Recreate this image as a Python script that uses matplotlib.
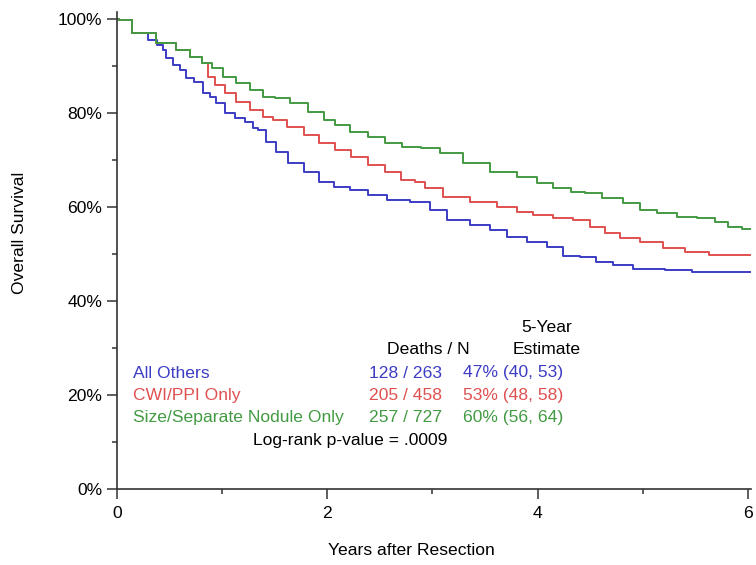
import numpy as np
import matplotlib.pyplot as plt
from matplotlib.ticker import PercentFormatter, MultipleLocator

plt.rcParams['font.family'] = ['Liberation Sans', 'DejaVu Sans']

# Kaplan-Meier curves (years, survival %)
others_t = [0, 0.03, 0.25, 0.34, 0.43, 0.44, 0.50, 0.57, 0.62, 0.69, 0.77, 0.86, 0.91,
            0.98, 1.07, 1.17, 1.26, 1.33, 1.36, 1.48, 1.55, 1.71, 1.84, 2.00, 2.12, 2.31,
            2.47, 2.66, 2.91, 3.04, 3.23, 3.48, 3.61, 3.80, 3.99, 4.18, 4.31, 4.50, 4.62,
            4.81, 5.00, 5.42, 5.51, 6.02]
others_s = [100, 99.8, 97.0, 95.5, 94.5, 93.4, 91.7, 90.2, 89.1, 87.4, 86.6, 84.3, 83.4,
            82.1, 80.0, 78.9, 78.1, 76.8, 76.4, 73.8, 71.7, 69.4, 67.4, 65.3, 64.3, 63.6,
            62.6, 61.5, 61.1, 59.4, 57.2, 56.2, 55.1, 53.6, 52.6, 51.5, 49.6, 49.4, 48.3,
            47.7, 46.8, 46.6, 46.2, 46.2]

cwi_t = [0, 0.03, 0.25, 0.50, 0.63, 0.76, 0.86, 0.88, 0.98, 1.07, 1.20, 1.33, 1.45,
         1.52, 1.71, 1.84, 2.00, 2.15, 2.31, 2.47, 2.62, 2.79, 2.88, 2.98, 3.23, 3.48,
         3.74, 3.86, 4.05, 4.24, 4.43, 4.56, 4.72, 4.85, 5.10, 5.29, 5.51, 5.76, 6.02]
cwi_s = [100, 99.8, 97.0, 94.9, 93.4, 91.9, 90.6, 87.7, 86.0, 84.3, 82.3, 80.6, 79.1,
         78.5, 77.0, 75.3, 73.6, 72.1, 70.6, 68.9, 67.4, 65.7, 65.3, 64.0, 62.1, 61.1,
         60.0, 58.9, 58.3, 57.7, 57.2, 55.7, 54.5, 53.4, 52.6, 51.3, 50.4, 49.8, 49.8]

size_t = [0, 0.03, 0.25, 0.50, 0.63, 0.76, 0.86, 0.95, 1.07, 1.20, 1.33, 1.45, 1.55,
          1.74, 1.90, 2.03, 2.12, 2.31, 2.47, 2.62, 2.81, 2.98, 3.17, 3.42, 3.67, 3.93,
          4.05, 4.24, 4.40, 4.50, 4.72, 4.91, 5.04, 5.23, 5.42, 5.61, 5.76, 5.86, 6.02]
size_s = [100, 99.8, 97.0, 94.9, 93.4, 91.9, 90.6, 89.6, 87.7, 86.4, 84.9, 83.4, 83.2,
          82.1, 80.2, 78.5, 77.4, 76.0, 74.9, 73.6, 72.8, 72.6, 71.5, 69.4, 67.4, 66.4,
          65.1, 64.0, 63.2, 63.0, 61.9, 60.9, 59.4, 58.7, 57.9, 57.7, 56.8, 55.7, 55.3]

groups = ['All Others', 'CWI/PPI Only', 'Size/Separate Nodule Only']
deaths_n = ['128 / 263', '205 / 458', '257 / 727']
estimates = ['47% (40, 53)', '53% (48, 58)', '60% (56, 64)']
colors = ['#3c3cc4', '#e05050', '#439a43']

fig = plt.figure(figsize=(7.56, 5.65), dpi=100)
ax = fig.add_axes([117 / 756, 1 - 489 / 565, 634 / 756, 477 / 565])

for t, s, c in zip([others_t, cwi_t, size_t], [others_s, cwi_s, size_s], colors):
    ax.plot(t, np.array(s) / 100, drawstyle='steps-mid', color=c, lw=1.4)

ax.set_xlim(0, 6.03)
ax.set_ylim(0, 1.015)
ax.xaxis.set_major_locator(MultipleLocator(2))
ax.xaxis.set_minor_locator(MultipleLocator(1))
ax.yaxis.set_major_locator(MultipleLocator(0.2))
ax.yaxis.set_minor_locator(MultipleLocator(0.1))
ax.yaxis.set_major_formatter(PercentFormatter(1.0, decimals=0))
for side in ['top', 'right']:
    ax.spines[side].set_visible(False)
for side in ['left', 'bottom']:
    ax.spines[side].set_color('#333333')
    ax.spines[side].set_linewidth(1.2)
fs = 12.6
ax.tick_params(which='major', length=7.5, width=1.1, color='#333333', labelsize=fs)
ax.tick_params(which='minor', length=3.6, width=1.1, color='#333333')
ax.tick_params(axis='y', pad=3)
ax.tick_params(axis='x', pad=5)
ax.set_xlabel('Years after Resection', fontsize=fs)
ax.set_ylabel('Overall Survival', fontsize=fs)
ax.xaxis.set_label_coords(0.465, -0.113)
ax.yaxis.set_label_coords(-0.142, 0.537)

# table of results inside the plot
def px(x, y):
    return (x - 117) / 634 * 6.03, (489 - y) / 477 * 1.015

ax.text(*px(547, 327), '5-Year', ha='center', va='center', fontsize=fs)
ax.text(*px(470, 350), 'Deaths / N', ha='right', va='center', fontsize=fs)
ax.text(*px(547, 350), 'Estimate', ha='center', va='center', fontsize=fs)
for i, (g, d, e, c) in enumerate(zip(groups, deaths_n, estimates, colors)):
    y = 373 + i * 22.5
    ax.text(*px(133, y), g, ha='left', va='center', fontsize=fs, color=c)
    ax.text(*px(442, y), d, ha='right', va='center', fontsize=fs, color=c)
    ax.text(*px(463, y), e, ha='left', va='center', fontsize=fs, color=c)
ax.text(*px(350, 440), 'Log-rank p-value = .0009', ha='center', va='center', fontsize=fs)

fig.savefig('out.png', dpi=100)
